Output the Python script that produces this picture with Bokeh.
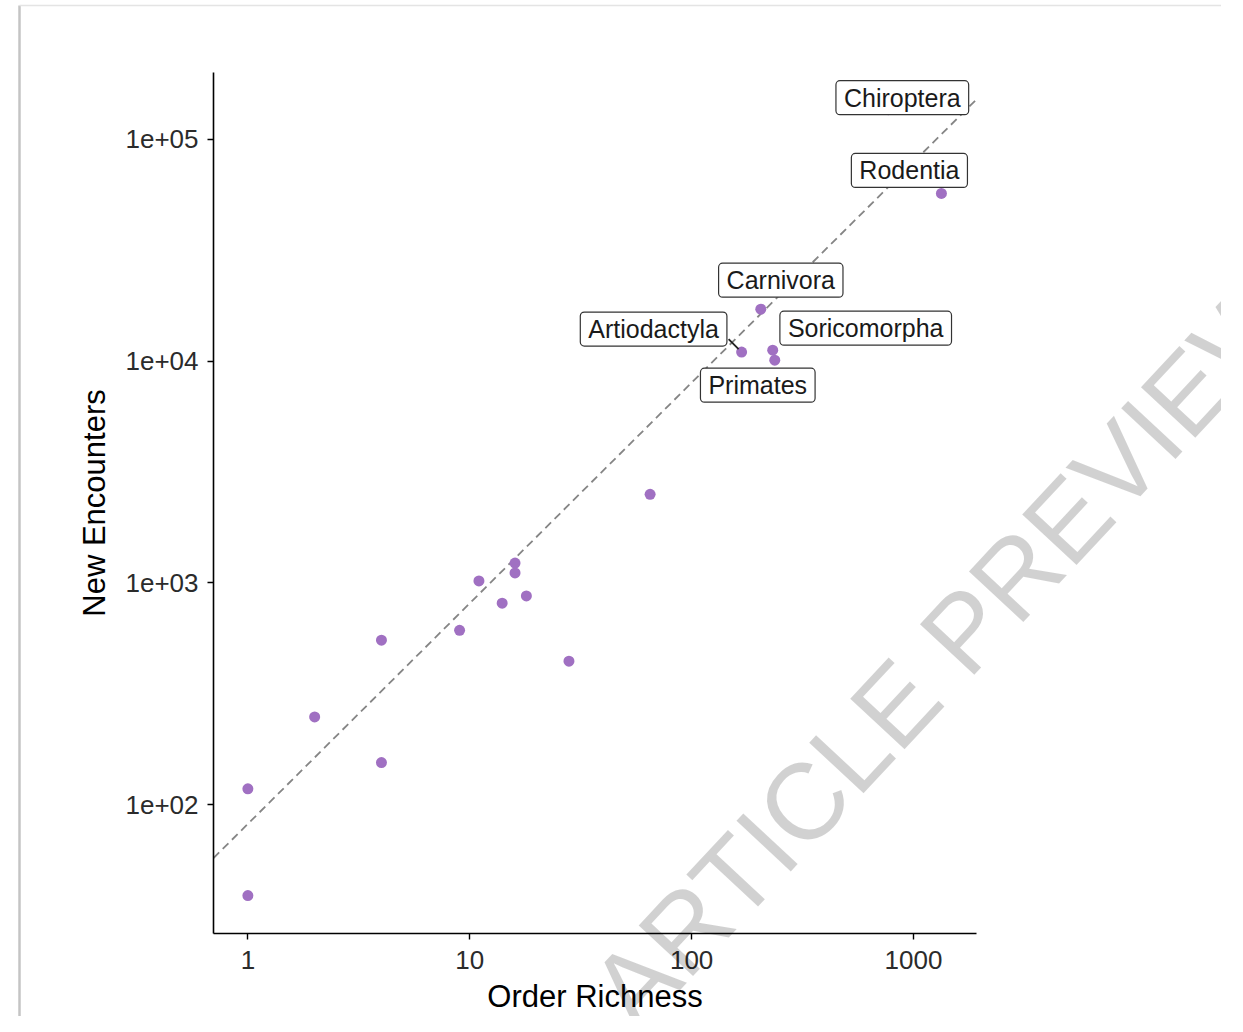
import numpy as np
from bokeh.plotting import figure, ColumnDataSource
from bokeh.models import Range1d, FixedTicker, Label, GridBox
from bokeh.core.properties import value
from bokeh.embed import file_html
from bokeh.resources import INLINE

# ---- data ----
order_richness = [1, 1, 2, 4, 4, 9, 11, 14, 16, 16, 18, 28, 65,
                  168, 205, 232, 237, 1336, 770]
new_encounters = [118, 39, 249, 552, 155, 612, 1021, 811, 1230, 1110, 874, 444, 2510,
                  10980, 17150, 11200, 10100, 57000, 136000]

label_names = ["Artiodactyla", "Carnivora", "Soricomorpha", "Primates", "Rodentia", "Chiroptera"]
label_x = [168, 205, 232, 237, 1336, 770]
label_y = [10980, 17150, 11200, 10100, 57000, 136000]

x_ticks = [1, 10, 100, 1000]
x_tick_labels = ["1", "10", "100", "1000"]
y_ticks = [100, 1000, 10000, 100000]
y_tick_labels = ["1e+02", "1e+03", "1e+04", "1e+05"]

# fitted line parameters (log-log)
fit_intercept = 1.914
fit_slope = 0.9945

# ---- layout ----
FONT = "Liberation Sans"
W, H = 1221, 1016
x_lo, x_hi = 0.70, 1923
y_lo, y_hi = 26.3, 2.0e5
frame_w, frame_h = 763, 863

p = figure(width=W, height=H, x_axis_type="log", y_axis_type="log",
           x_range=Range1d(x_lo, x_hi), y_range=Range1d(y_lo, y_hi),
           output_backend="svg", toolbar_location=None,
           min_border_left=213, min_border_right=245,
           min_border_top=72, min_border_bottom=81)
p.frame_align = False
p.outline_line_color = None
p.xgrid.visible = False
p.ygrid.visible = False
p.background_fill_color = "white"
p.border_fill_color = "white"

# dashed fit line
lx = np.array([x_lo, x_hi])
ly = 10 ** (fit_intercept + fit_slope * np.log10(lx))
p.line(lx, ly, line_color="#858585", line_width=1.8, line_dash="8 5")

# points
p.scatter(order_richness, new_encounters, size=11, fill_color="#a070c2",
          line_color="#a070c2", line_width=0)

# leader segment for Artiodactyla
px_per_dec_x = frame_w / np.log10(x_hi / x_lo)
px_per_dec_y = frame_h / np.log10(y_hi / y_lo)
ax, ay = label_x[0], label_y[0]
p.segment(x0=[ax * 10 ** (-3 / px_per_dec_x)], y0=[ay * 10 ** (3 / px_per_dec_y)],
          x1=[ax * 10 ** (-13 / px_per_dec_x)], y1=[ay * 10 ** (13 / px_per_dec_y)],
          line_color="#222222", line_width=1.8)

# labels (offsets in screen px, positive = right / up)
dx = [-88, 20, 93, -17, -32, 14]
dy = [23, 29, 22, -25, 23, 12]
src = ColumnDataSource(dict(x=label_x, y=label_y, t=label_names, dx=dx,
                            dyn=[-v for v in dy]))
p.text(x="x", y="y", text="t", source=src, x_offset="dx", y_offset="dyn",
       text_align="center", text_baseline="middle",
       text_font=value(FONT), text_font_size="25px", text_color="#1a1a1a",
       background_fill_color="white", background_fill_alpha=1.0,
       border_line_color="#333333", border_line_width=1.2,
       padding=dict(left=8, right=8, top=3, bottom=3), border_radius=4)

# axes
for ax_ in (p.xaxis[0], p.yaxis[0]):
    ax_.axis_line_color = "black"
    ax_.axis_line_width = 1.6
    ax_.major_tick_line_color = "black"
    ax_.major_tick_line_width = 1.4
    ax_.major_tick_out = 6
    ax_.major_tick_in = 0
    ax_.minor_tick_line_color = None
    ax_.major_label_text_font = FONT
    ax_.major_label_text_font_size = "26px"
    ax_.major_label_text_color = "#2b2b2b"
    ax_.axis_label_text_font = FONT
    ax_.axis_label_text_font_size = "31px"
    ax_.axis_label_text_font_style = "normal"
    ax_.axis_label_text_color = "black"

p.xaxis.ticker = FixedTicker(ticks=x_ticks)
p.yaxis.ticker = FixedTicker(ticks=y_ticks)
p.xaxis.major_label_overrides = {float(t): s for t, s in zip(x_ticks, x_tick_labels)}
p.yaxis.major_label_overrides = {float(t): s for t, s in zip(y_ticks, y_tick_labels)}
p.xaxis.axis_label = "Order Richness"
p.yaxis.axis_label = "New Encounters"
p.xaxis.major_label_standoff = 11
p.yaxis.major_label_standoff = 9
p.xaxis.axis_label_standoff = 7
p.yaxis.axis_label_standoff = 10

# ---- watermark overlay: transparent figure stacked on the same grid cell ----
w = figure(width=W, height=H, x_range=Range1d(0, W), y_range=Range1d(0, H),
           x_axis_location=None, y_axis_location=None,
           output_backend="svg", toolbar_location=None, min_border=0)
w.frame_align = False
w.outline_line_color = None
w.xgrid.visible = False
w.ygrid.visible = False
w.background_fill_alpha = 0
w.border_fill_alpha = 0

# page-card edges (left shadow and top edge)
w.line([19, 19], [0, H - 5], line_color="#c4c4c4", line_width=2.5)
w.line([19, W], [H - 5, H - 5], line_color="#e4e4e4", line_width=1.5)

wm = Label(x=945, y=H - 650, text="ARTICLE PREVIEW", angle=47, angle_units="deg",
           text_align="center", text_baseline="middle",
           text_font=FONT, text_font_size="108px", text_color="black",
           text_alpha=0.18)
w.add_layout(wm)

layout = GridBox(children=[(p, 0, 0), (w, 0, 0)])

open("out.html", "w").write(file_html(layout, INLINE))
